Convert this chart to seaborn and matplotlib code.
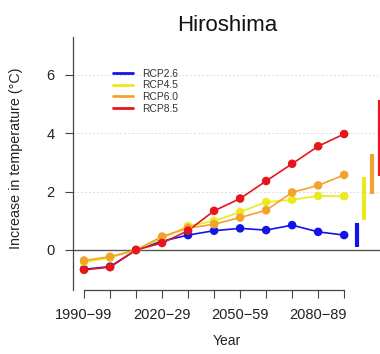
import matplotlib
matplotlib.use("Agg")
import matplotlib.pyplot as plt
import seaborn as sns
import pandas as pd
import numpy as np

# ---- data ----
periods = ["1990-99", "2000-09", "2010-19", "2020-29", "2030-39", "2040-49",
           "2050-59", "2060-69", "2070-79", "2080-89", "2090-99"]
shown_labels = ["1990\u221299", "", "", "2020\u221229", "", "", "2050\u221259", "", "", "2080\u221289", ""]
scenarios = ["RCP2.6", "RCP4.5", "RCP6.0", "RCP8.5"]
rcp26 = [-0.66, -0.57, 0.0, 0.30, 0.51, 0.66, 0.74, 0.68, 0.85, 0.62, 0.51]
rcp45 = [-0.42, -0.27, 0.0, 0.40, 0.82, 0.99, 1.30, 1.64, 1.72, 1.85, 1.84]
rcp60 = [-0.36, -0.23, 0.0, 0.46, 0.75, 0.88, 1.11, 1.36, 1.97, 2.21, 2.57]
rcp85 = [-0.68, -0.59, 0.0, 0.24, 0.66, 1.34, 1.76, 2.36, 2.95, 3.55, 3.97]
range_low = [0.09, 1.03, 1.92, 2.53]
range_high = [0.93, 2.51, 3.29, 5.14]

colors = {"RCP2.6": "#1414E6", "RCP4.5": "#EAEA1E", "RCP6.0": "#F2A22E", "RCP8.5": "#E8161C"}

series = {"RCP2.6": rcp26, "RCP4.5": rcp45, "RCP6.0": rcp60, "RCP8.5": rcp85}
rows = []
for s in scenarios:
    for i, v in enumerate(series[s]):
        rows.append({"idx": i, "period": periods[i], "scenario": s, "value": v})
df = pd.DataFrame(rows)

sns.set_style("white")
plt.rcParams["font.family"] = ["Liberation Sans", "DejaVu Sans"]

fig = plt.figure(figsize=(3.8, 3.54), dpi=100)
ax = fig.add_axes([72.6 / 380, (354 - 290) / 354, 309 / 380, 253 / 354])

# grid and zero line
for g in [2, 4, 6]:
    ax.axhline(g, color="#dddddd", lw=0.7, ls=(0, (2, 2)), zorder=0)
ax.axhline(0, color="#555555", lw=1.0, zorder=1)

sns.lineplot(data=df, x="idx", y="value", hue="scenario", hue_order=scenarios,
             palette=colors, sort=False, lw=1.2, ax=ax, zorder=3)
sns.scatterplot(data=df, x="idx", y="value", hue="scenario", hue_order=scenarios,
                palette=colors, s=38, edgecolor="none", legend=False, ax=ax, zorder=4)

# range bars on the right
bar_x = [10.48, 10.78, 11.08, 11.36]
ax.vlines(bar_x, range_low, range_high, colors=[colors[s] for s in scenarios],
          lw=3.0, zorder=3)

ax.set_xlim(-0.44, 11.44)
ax.set_ylim(-1.37, 7.29)
ax.set_xticks(range(len(periods)))
ax.set_xticklabels(shown_labels)
ax.set_yticks([0, 2, 4, 6])
ax.set_yticklabels(["0", "2", "4", "6"])
ax.tick_params(axis="both", which="both", direction="out", length=5.8, width=0.8,
               color="#444444", labelsize=10.5, labelcolor="#222222", pad=7,
               bottom=True, left=True)

for sp in ["top", "right"]:
    ax.spines[sp].set_visible(False)
ax.spines["left"].set_color("#444444")
ax.spines["left"].set_linewidth(0.9)
ax.spines["bottom"].set_color("#444444")
ax.spines["bottom"].set_linewidth(0.9)
ax.spines["bottom"].set_bounds(0, 10)

ax.set_title("Hiroshima", fontsize=16, pad=4, color="#111111")
ax.set_xlabel("Year", fontsize=10, color="#222222")
ax.xaxis.set_label_coords(0.5, -0.172)
ax.set_ylabel("Increase in temperature (\u00b0C)", fontsize=10.3, color="#222222")
ax.yaxis.set_label_coords(-0.162, 0.52)

leg = ax.legend(loc="upper left", bbox_to_anchor=(0.131, 0.874), frameon=False,
                fontsize=7.4, handlelength=1.95, handletextpad=0.85,
                labelspacing=0.15, borderaxespad=0, borderpad=0)
for line in leg.get_lines():
    line.set_linewidth(2.0)
for t in leg.get_texts():
    t.set_color("#333333")

fig.savefig("out.png", dpi=100)
